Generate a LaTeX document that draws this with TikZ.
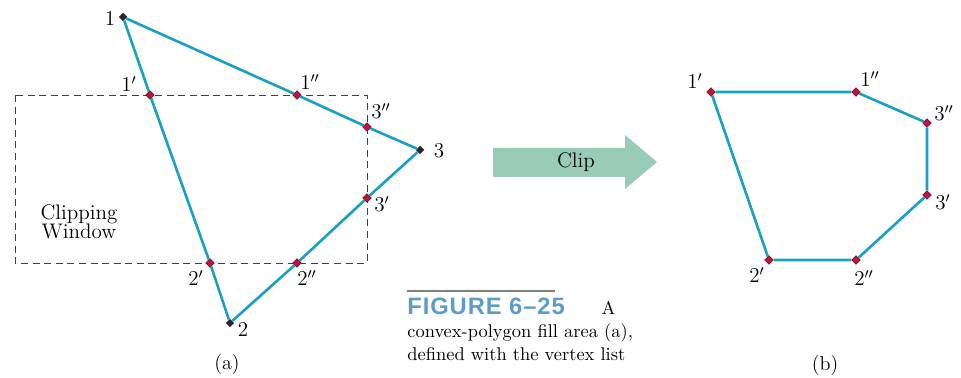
\documentclass[tikz,border=0pt]{standalone}
\usepackage{fontspec}
\newfontfamily\figfont[LetterSpace=4]{Liberation Sans}
\usetikzlibrary{shapes.geometric}
\definecolor{polyblue}{HTML}{1AA0C4}
\definecolor{markred}{HTML}{C0143C}
\definecolor{cliparrow}{HTML}{98CCB8}
\definecolor{figblue}{HTML}{5B9CC8}

\begin{document}
\begin{tikzpicture}[x=0.02cm,y=-0.02cm,font=\fontsize{11.5}{13}\selectfont,
 edge/.style={polyblue,line width=1.5pt},
 cutpt/.style={diamond,draw=markred!60!black,line width=0.3pt,fill=markred,inner sep=0pt,minimum size=5pt},
 orgpt/.style={diamond,fill=black!85,inner sep=0pt,minimum size=5pt},
 win/.style={draw=black!75,line width=0.5pt,dash pattern=on 4pt off 2.6pt}]
\useasboundingbox (0,0) rectangle (961,378);
% clipping window
\draw[win] (15,95) rectangle (367,263);
\node[align=center,font=\fontsize{12}{11}\selectfont] (winlab) at (79,222) {Clipping\\Window};

% (a) polygon before clipping
\foreach \n/\x/\y in {one/123/17,two/230/323,three/420/150}
  \node[orgpt] (\n) at (\x,\y) {};
\foreach \n/\x/\y in {onep/150/95,onepp/297/95,threepp/367/127,threep/367/198,twopp/297/263,twop/210/263}
  \node[cutpt] (\n) at (\x,\y) {};
\draw[edge] (one) -- (onep) -- (twop) -- (two) -- (twopp) -- (threep) -- (three)
  -- (threepp) -- (onepp) -- (one);
\foreach \x/\y/\t [count=\i] in {110/19/1,129/84/1',310/82/1'',381/111/3'',439/151/3,
  382/204/3',307/278/2'',196/278/2',243/330/2}
  \node (la\i) at (\x,\y) {$\t$};
\node (capa) at (227,364) {(a)};

% clip arrow
\fill[cliparrow] (493,148) -- (625,148) -- (625,135) -- (657,162) -- (625,189)
  -- (625,177) -- (493,177) -- cycle;
\node[font=\fontsize{12}{13}\selectfont] (clip) at (576,162) {Clip};

% (b) polygon after clipping
\foreach \n/\x/\y in {ronep/711/92,ronepp/856/92,rthreepp/927/123,rthreep/927/195,rtwopp/856/260,rtwop/769/260}
  \node[cutpt] (\n) at (\x,\y) {};
\draw[edge] (ronep) -- (ronepp) -- (rthreepp) -- (rthreep) -- (rtwopp) -- (rtwop) -- (ronep);
\foreach \x/\y/\t [count=\i] in {695/81/1',870/79/1'',944/113/3'',943/202/3',864/278/2'',757/275/2'}
  \node (lb\i) at (\x,\y) {$\t$};
\node (capb) at (825,365) {(b)};

% caption
\draw[black!50,line width=0.6pt] (407,291) -- (555,291);
\node[anchor=north west,inner sep=0pt,align=left,font=\fontsize{10.5}{13}\selectfont] (caption) at (407,298)
  {{\figfont\bfseries\color{figblue}\fontsize{13.5}{13}\selectfont FIGURE 6\textendash25}\hspace{2em}A\\
   convex-polygon fill area (a),\\defined with the vertex list};
\end{tikzpicture}
\end{document}
